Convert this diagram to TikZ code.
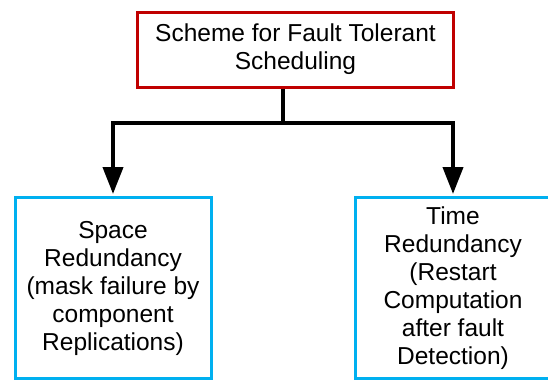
\documentclass[tikz,border=0pt]{standalone}
\usepackage{fontspec}
\setmainfont{Liberation Sans}
\usetikzlibrary{arrows.meta}
\definecolor{boxred}{RGB}{192,0,0}
\definecolor{boxblue}{RGB}{0,176,240}
\begin{document}
\begin{tikzpicture}[x=1pt,y=-1pt,
  txt/.style={align=center,font=\fontsize{24.5}{28}\selectfont,inner sep=0pt},
  rootbox/.style={txt,draw=boxred,line width=3pt,minimum width=316pt,minimum height=75pt},
  leafbox/.style={txt,draw=boxblue,line width=3pt,minimum width=196pt,minimum height=181pt},
  link/.style={line width=4pt,line join=miter},
  tip/.style={-{Triangle[width=20pt,length=27pt]},shorten >=2pt}]
\useasboundingbox (0,0) rectangle (548,381);
\fill[white] (0,0) rectangle (548,381);

\node[rootbox] (root) at (295.5,49.5) {Scheme for Fault Tolerant\\Scheduling};
\node[leafbox] (space) at (113,288) {Space\\Redundancy\\(mask failure by\\component\\Replications)};
\node[leafbox] (time) at (453,288) {Time\\Redundancy\\(Restart\\Computation\\after fault\\Detection)};

\coordinate (split) at (283,123);
\draw[link] (root.south -| split) -- (split);
\draw[link,tip] (split) -| (space.north);
\draw[link,tip] (split) -| (time.north);
\end{tikzpicture}
\end{document}
